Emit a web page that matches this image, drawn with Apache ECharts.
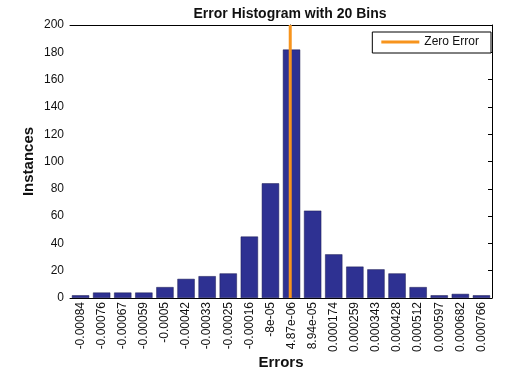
<!DOCTYPE html>
<html><head><meta charset="utf-8">
<script src="https://cdn.jsdelivr.net/npm/echarts@6/dist/echarts.min.js"></script>
<style>html,body{margin:0;padding:0;background:#fff}#c{width:522px;height:368px}</style>
</head><body><div id="c"></div>
<script>
const categories = ['-0.00084','-0.00076','-0.00067','-0.00059','-0.0005','-0.00042','-0.00033','-0.00025','-0.00016','-8e-05','4.87e-06','8.94e-05','0.000174','0.000259','0.000343','0.000428','0.000512','0.000597','0.000682','0.000766'];
const instances = [2,4,4,4,8,14,16,18,45,84,182,64,32,23,21,18,8,2,3,2];
const zeroErrorX = [0,0];
const zeroErrorY = [0,200];
const yTicks = [0,20,40,60,80,100,120,140,160,180,200];

const centers = categories.map(parseFloat);
const step = (centers[centers.length-1]-centers[0])/(centers.length-1);
const xmin = centers[0]-step/2, xmax = centers[centers.length-1]+step/2;
const font = 'Liberation Sans, Arial, sans-serif';
const chart = echarts.init(document.getElementById('c'));
chart.setOption({
  animation:false,
  title:{text:'Error Histogram with 20 Bins',left:285,top:2,textAlign:'center',
    textStyle:{fontFamily:font,fontSize:14,fontWeight:'bold',color:'#111'}},
  legend:{data:['Zero Error'],right:31,top:32,itemWidth:38,itemHeight:3,itemGap:4,
    backgroundColor:'#fff',borderColor:'#000',borderWidth:1,borderRadius:0,padding:[4,12,5,9],
    textStyle:{fontFamily:font,fontSize:12,color:'#111'},icon:'rect'},
  grid:{left:70,right:30,top:25,bottom:70,outerBoundsMode:'none',containLabel:false},
  xAxis:[
    {type:'category',data:categories,position:'bottom',
     axisLine:{lineStyle:{color:'#000'}},axisTick:{show:false},
     axisLabel:{rotate:90,interval:0,fontFamily:font,fontSize:12,color:'#111',margin:4},
     name:'Errors',nameLocation:'middle',nameGap:57,nameMoveOverlap:false,
     nameTextStyle:{fontFamily:font,fontSize:15,fontWeight:'bold',color:'#111'}},
    {type:'value',min:xmin,max:xmax,show:false},
    {type:'category',data:categories,position:'top',
     axisLine:{lineStyle:{color:'#000'}},axisTick:{inside:true,length:4,alignWithLabel:true,lineStyle:{color:'#000'}},
     axisLabel:{show:false}}
  ],
  yAxis:[
    {type:'value',min:0,max:200,interval:20,
     axisLine:{show:true,lineStyle:{color:'#000'}},axisTick:{show:true,inside:true,length:4,lineStyle:{color:'#000'}},
     splitLine:{show:false},
     axisLabel:{fontFamily:font,fontSize:12,color:'#111',margin:6,formatter:v=>yTicks.includes(v)?String(v):''},
     name:'Instances',nameLocation:'middle',nameGap:34,nameMoveOverlap:false,
     nameTextStyle:{fontFamily:font,fontSize:15,fontWeight:'bold',color:'#111'}},
    {type:'value',min:0,max:200,interval:20,position:'right',
     axisLine:{show:true,lineStyle:{color:'#000'}},axisTick:{show:true,inside:true,length:4,lineStyle:{color:'#000'}},
     axisLabel:{show:false},splitLine:{show:false}}
  ],
  series:[
    {type:'bar',data:instances,xAxisIndex:0,yAxisIndex:0,barCategoryGap:'18%',
     itemStyle:{color:'#2E3192',borderColor:'#1a1a50',borderWidth:0.5}},
    {type:'line',name:'Zero Error',xAxisIndex:1,yAxisIndex:0,
     data:zeroErrorX.map((x,i)=>[x,zeroErrorY[i]]),symbol:'none',
     lineStyle:{color:'#F7941D',width:3},itemStyle:{color:'#F7941D'}}
  ]
});
</script></body></html>
